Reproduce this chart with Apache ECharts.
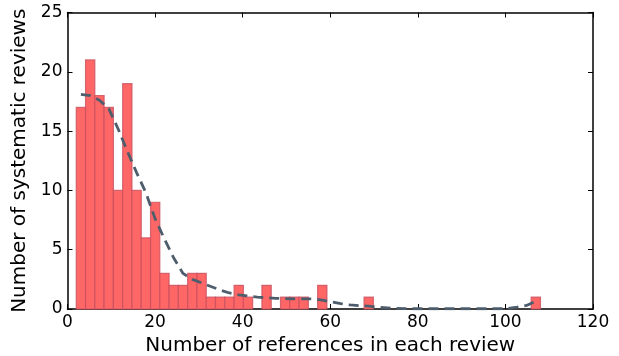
<!DOCTYPE html>
<html>
<head>
<meta charset="utf-8">
<script src="https://cdn.jsdelivr.net/npm/echarts@6/dist/echarts.min.js"></script>
<style>html,body{margin:0;padding:0;background:#fff}#c{width:619px;height:356px}</style>
</head>
<body>
<div id="c"></div>
<script>
var binStart = 2;
var binWidth = 2.12;
var counts = [17,21,18,17,10,19,10,6,9,3,2,2,3,3,1,1,1,2,1,0,2,0,1,1,1,0,2,0,0,0,0,1,0,0,0,0,0,0,0,0,0,0,0,0,0,0,0,0,0,1];
var fitX = [3.06,5.18,7.3,9.42,11.54,13.66,15.78,17.9,20.02,22.14,24.26,26.38,28.5,30.62,32.74,34.86,36.98,39.1,41.22,43.34,45.46,47.58,49.7,51.82,53.94,56.06,58.18,60.3,62.42,64.54,66.66,68.78,70.9,73.02,75.14,77.26,79.38,81.5,83.62,85.74,87.86,89.98,92.1,94.22,96.34,98.46,100.58,102.7,104.82,106.94];
var fitY = [18.1,18.0,17.6,16.9,15.2,13.3,11.5,9.8,7.6,5.9,4.3,3.0,2.5,2.2,1.9,1.6,1.35,1.2,1.1,1.0,0.95,0.9,0.87,0.85,0.85,0.85,0.75,0.6,0.45,0.34,0.28,0.25,0.15,0.1,0.05,0.03,0.02,0.02,0.02,0.02,0.02,0.02,0.02,0.02,0.02,0.02,0.05,0.15,0.3,0.65];
var xTicks = [0,20,40,60,80,100,120];
var yTicks = [0,5,10,15,20,25];

var barData = counts.map(function(c,i){return [binStart+i*binWidth, binStart+(i+1)*binWidth, c];});
var lineData = fitX.map(function(x,i){return [x, fitY[i]];});

var font = 'DejaVu Sans';
var axisLine = {show:true, onZero:false, lineStyle:{color:'#000', width:1.5}};
var tick = {show:true, inside:true, length:5, lineStyle:{color:'#000',width:1}};
var chart = echarts.init(document.getElementById('c'));
chart.setOption({
  animation:false,
  grid:{left:67.5, top:12.5, right:26, bottom:47, outerBoundsMode:'none', containLabel:false},
  xAxis:[{
    type:'value', min:xTicks[0], max:xTicks[xTicks.length-1], interval:20,
    axisLine:axisLine, axisTick:tick,
    splitLine:{show:false},
    axisLabel:{fontFamily:font, fontSize:17, color:'#000', margin:5},
    name:'Number of references in each review', nameLocation:'middle', nameGap:27,
    nameTextStyle:{fontFamily:font, fontSize:20, color:'#000'}
  },{
    type:'value', position:'top', min:0, max:120, interval:20,
    axisLine:axisLine, axisTick:tick,
    axisLabel:{show:false}, splitLine:{show:false}
  }],
  yAxis:[{
    type:'value', min:yTicks[0], max:yTicks[yTicks.length-1], interval:5,
    axisLine:axisLine, axisTick:tick,
    splitLine:{show:false},
    axisLabel:{fontFamily:font, fontSize:17, color:'#000', margin:5},
    name:'Number of systematic reviews', nameLocation:'middle', nameGap:34,
    nameTextStyle:{fontFamily:font, fontSize:20, color:'#000'}
  },{
    type:'value', position:'right', min:0, max:25, interval:5,
    axisLine:axisLine, axisTick:tick,
    axisLabel:{show:false}, splitLine:{show:false}
  }],
  series:[{
    type:'custom',
    xAxisIndex:0, yAxisIndex:0,
    data:barData,
    encode:{x:[0,1], y:2},
    renderItem:function(params, api){
      var c = api.value(2);
      if (!c) return null;
      var p0 = api.coord([api.value(0), c]);
      var p1 = api.coord([api.value(1), 0]);
      return {type:'rect', shape:{x:p0[0], y:p0[1], width:p1[0]-p0[0], height:p1[1]-p0[1]},
        style:{fill:'#ff6666', stroke:'rgba(200,80,95,0.8)', lineWidth:1.2}};
    },
    z:2
  },{
    type:'line', xAxisIndex:0, yAxisIndex:0, data:lineData, showSymbol:false, symbol:'none',
    smooth:false,
    lineStyle:{color:'#4e5d6c', width:2.8, type:[10,6]},
    z:3
  }]
});
</script>
</body>
</html>
